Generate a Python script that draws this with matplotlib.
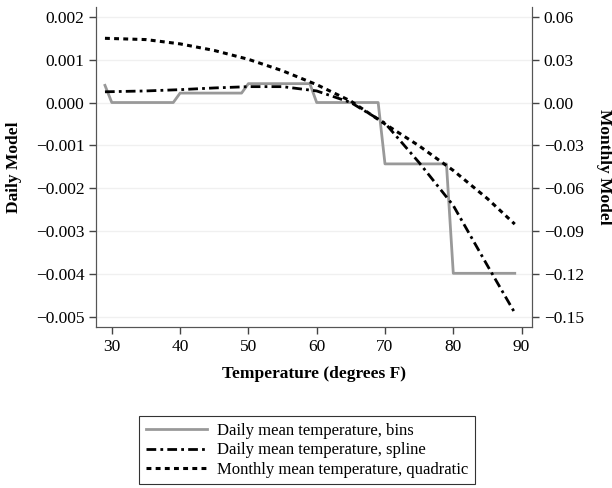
import matplotlib.pyplot as plt
from matplotlib.ticker import FuncFormatter

plt.rcParams['font.family'] = ['Liberation Serif', 'DejaVu Serif']

# daily model, temperature bins (left axis)
bin_temp = [29, 30, 39, 40, 49, 50, 59, 60, 69, 70, 79, 80, 89]
bin_vals = [0.0004, 0.0, 0.0, 0.00022, 0.00022, 0.00044, 0.00044, 0.0, 0.0,
            -0.00143, -0.00143, -0.00398, -0.00398]

# daily model, spline (left axis)
spl_temp = [29, 35, 40, 45, 50, 55, 60, 65, 70, 75, 80, 85, 89]
spl_vals = [0.00025, 0.00027, 0.0003, 0.00034, 0.00037, 0.00037, 0.00027,
            0.0, -0.00048, -0.0014, -0.0024, -0.0038, -0.0049]

# monthly model, quadratic (right axis)
quad_temp = [29, 35, 40, 45, 50, 55, 60, 65, 70, 75, 80, 85, 89]
quad_vals = [0.0449, 0.0440, 0.0410, 0.0364, 0.0302, 0.0222, 0.0125, 0.0010,
             -0.0150, -0.0303, -0.0475, -0.0672, -0.0850]

left_ticks = [0.002, 0.001, 0.0, -0.001, -0.002, -0.003, -0.004, -0.005]
right_ticks = [0.06, 0.03, 0.0, -0.03, -0.06, -0.09, -0.12, -0.15]
x_ticks = [30, 40, 50, 60, 70, 80, 90]

fig = plt.figure(figsize=(6.12, 4.88), dpi=100)
ax = fig.add_axes([0.157, 0.330, 0.712, 0.656])
ax2 = ax.twinx()

ylo, yhi = -0.00523, 0.00223
ax.set_ylim(ylo, yhi)
ax2.set_ylim(ylo * 30, yhi * 30)
ax.set_xlim(27.7, 91.5)

for t in left_ticks:
    ax.axhline(t, color='#f0f0f0', lw=1, zorder=0)

l1, = ax.plot(bin_temp, bin_vals, color='#999999', lw=2,
              label='Daily mean temperature, bins')
l2, = ax.plot(spl_temp, spl_vals, color='black', lw=2, dashes=(3.5, 1.5, 1, 1.5),
              label='Daily mean temperature, spline')
l3, = ax2.plot(quad_temp, quad_vals, color='black', lw=2.2, dashes=(1.6, 1.4),
               label='Monthly mean temperature, quadratic')


def fmt(dec):
    return FuncFormatter(lambda v, p: f'{v:.{dec}f}'.replace('-', '\u2212'))


ax.set_xticks(x_ticks)
ax.set_yticks(left_ticks)
ax2.set_yticks(right_ticks)
ax.yaxis.set_major_formatter(fmt(3))
ax2.yaxis.set_major_formatter(fmt(2))

for a in (ax, ax2):
    a.tick_params(labelsize=12.5, length=5, color='#444444', width=1)
    for s in a.spines.values():
        s.set_color('#555555')
    a.spines['top'].set_visible(False)

ax.set_xlabel('Temperature (degrees F)', fontsize=12.5, fontweight='bold', labelpad=8)
ax.set_ylabel('Daily Model', fontsize=12.5, fontweight='bold', labelpad=10)
ax2.set_ylabel('Monthly Model', fontsize=12.5, fontweight='bold', rotation=270, labelpad=20)

leg = fig.legend(handles=[l1, l2, l3], loc='upper center', bbox_to_anchor=(0.502, 1 - 408 / 488),
                 fontsize=12, frameon=True, fancybox=False, edgecolor='black',
                 handlelength=3.66, handletextpad=0.6, borderpad=0.4, labelspacing=0.2)
leg.get_frame().set_linewidth(0.8)

fig.savefig('out.png', dpi=100)
